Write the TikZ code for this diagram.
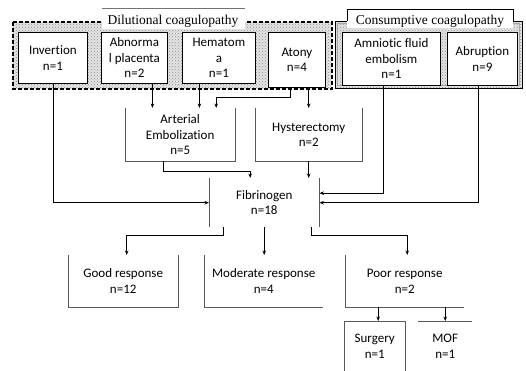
\documentclass[tikz,border=0pt]{standalone}
\usepackage{fontspec}
\setmainfont{Carlito}[Ligatures=NoCommon]
\newfontfamily\serifface{Liberation Serif}
\usetikzlibrary{patterns,arrows.meta,calc}
\begin{document}
\begin{tikzpicture}[x=1pt,y=-1pt,
  txt/.style={font=\fontsize{13}{15.5}\selectfont, align=center, inner sep=0pt, anchor=north west},
  wbox/.style={txt, draw=black, fill=white, line width=0.8pt},
  pbox/.style={txt, draw=none},
  part/.style={draw=black!65, line width=0.6pt},
  arr/.style={draw=black, line width=0.8pt, -{Stealth[length=4.5pt,width=3.5pt]}},
  lab/.style={font=\serifface\fontsize{13.5}{14}\selectfont, inner sep=0pt},
  stip/.style={pattern=crosshatch dots, pattern color=black!45}
]
\useasboundingbox (0,0) rectangle (526,371);

% dilutional group
\fill[black!10] (13,22) rectangle (332,89);
\path[stip] (13,22) rectangle (332,89);
\draw[line width=1.1pt, dash pattern=on 4pt off 2pt] (13,22) rectangle (332,89);
\fill[white] (102,8) rectangle (245,29);
\draw[black!55, line width=0.6pt] (102,8) -- (245,8);
\node[lab] (dlab) at (173,21) {Dilutional coagulopathy};

% consumptive group
\fill[black!10] (335,21) rectangle (522,88);
\path[stip] (335,21) rectangle (522,88);
\draw[line width=0.9pt] (335,21) rectangle (522,88);
\draw[black!35, line width=0.5pt] (337.5,23.5) rectangle (519.5,85.5);
\fill[white] (347,9) rectangle (513,28);
\draw[line width=0.8pt] (347,21) -- (347,9) -- (513,9) -- (513,21);
\node[lab] (clab) at (430,21) {Consumptive coagulopathy};

% top boxes
\node[wbox, minimum width=69pt, minimum height=51pt] (inv) at (18,32) {Invertion\\n=1};
\node[wbox, minimum width=66pt, minimum height=51pt] (abn) at (101,32) {Abnorma\\l placenta\\n=2};
\node[wbox, minimum width=73pt, minimum height=51pt] (hem) at (182,32) {Hematom\\a\\n=1};
\node[wbox, minimum width=57pt, minimum height=55pt] (aty) at (268,32) {Atony\\n=4};
\node[wbox, minimum width=98pt, minimum height=53pt] (amn) at (342,32) {Amniotic fluid\\embolism\\n=1};
\node[wbox, minimum width=70pt, minimum height=53pt] (abr) at (447,32) {Abruption\\n=9};

% middle boxes
\node[pbox, minimum width=110pt, minimum height=53pt] (ae) at (125,108) {Arterial\\Embolization\\n=5};
\node[pbox, minimum width=107pt, minimum height=53pt] (hys) at (255,108) {Hysterectomy\\n=2};
\node[pbox, minimum width=110pt, minimum height=49pt] (fib) at (209,178) {Fibrinogen\\n=18};
\draw[part] (ae.north west) -- (ae.south west) -- (ae.south east) -- (ae.north east);
\draw[part] (hys.north west) -- (hys.south west) -- (hys.south east) -- (hys.north east);
\draw[part] (fib.north west) -- (fib.south west);
\draw[part] (fib.north east) -- (fib.south east);

% response boxes
\node[pbox, minimum width=110pt, minimum height=52pt] (good) at (68,255) {Good response\\n=12};
\node[pbox, minimum width=119pt, minimum height=52pt] (mod) at (204,255) {Moderate response\\n=4};
\node[pbox, minimum width=119pt, minimum height=52pt] (poor) at (345,255) {Poor response\\n=2};
\draw[part] (good.north west) -- (good.south west) -- (good.south east) -- (good.north east);
\draw[part] (mod.north west) -- (mod.south west) -- (mod.south east);
\draw[part] (poor.north west) -- (poor.south west) -- (poor.south east);

\node[pbox, minimum width=61pt, minimum height=50pt] (sur) at (344,321) {Surgery\\n=1};
\node[pbox, minimum width=54pt, minimum height=50pt] (mof) at (418,321) {MOF\\n=1};
\draw[part] (sur.south west) -- (sur.north west) -- (sur.north east) -- (sur.south east);
\draw[part] (mof.north west) -- (mof.north east);

% connectors
\draw[arr] ([xshift=18pt]abn.south) -- ([xshift=18pt]abn.south |- ae.north);
\draw[arr] ([xshift=-19.5pt]hem.south) -- ([xshift=-19.5pt]hem.south |- ae.north);
\draw[arr] ([xshift=-6.5pt]aty.south) -- ++(0,10) -| ([xshift=36pt]ae.north);
\draw[arr] (aty.south -| hys.north) -- (hys.north);
\draw[arr] (inv.south) |- (fib.west);
\draw[arr] ([xshift=-8pt]amn.south) |- ([yshift=9.5pt]fib.east);
\draw[arr] ([xshift=-4pt]abr.south) |- (fib.east);
\draw[arr] ([xshift=-17pt]ae.south) -- ++(0,10) -| ([xshift=-14pt]fib.north);
\draw[arr] (hys.south -| hys.north) -- (hys.south |- fib.north);
\draw[arr] ([xshift=-41pt]fib.south) -- ++(0,8) -| ([xshift=3.5pt]good.north);
\draw[arr] (fib.south) -- (fib.south |- mod.north);
\draw[arr] ([xshift=47pt]fib.south) -- ++(0,8) -| ([xshift=2.5pt]poor.north);
\draw[arr] ([xshift=3.5pt]sur.north |- poor.south) -- ([xshift=3.5pt]sur.north);
\draw[arr] (mof.north |- poor.south) -- (mof.north);
\end{tikzpicture}
\end{document}
